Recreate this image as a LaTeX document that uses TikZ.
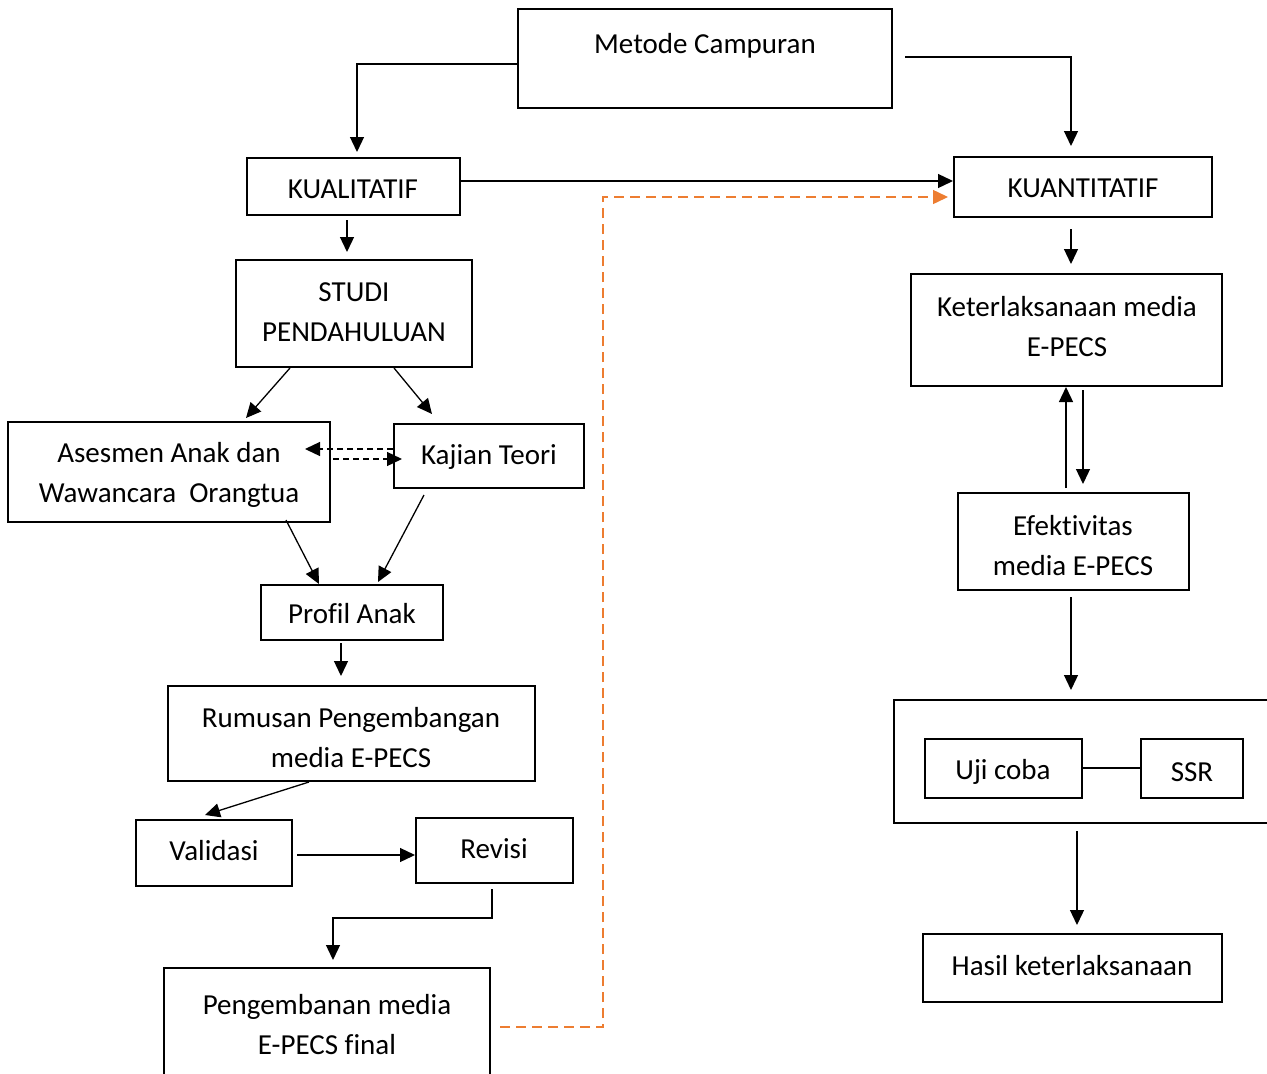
\documentclass[tikz,border=0pt]{standalone}
\usepackage{fontspec}
\setmainfont[Ligatures=NoCommon]{Carlito}
\usetikzlibrary{arrows.meta}
\begin{document}
\begin{tikzpicture}[x=1pt,y=-1pt,
  box/.style={draw, line width=2pt, inner sep=0pt},
  txt/.style={inner sep=0pt, align=center, font=\fontsize{29}{40}\selectfont},
  conn/.style={line width=1.3pt},
  arr/.style={conn, -{Triangle[length=15pt,width=14pt]}},
  dasharr/.style={conn, dash pattern=on 6pt off 4pt, -{Triangle[length=15pt,width=14pt]}},
  orangearr/.style={line width=1.5pt, draw=orangeline, dash pattern=on 10pt off 6pt, -{Triangle[length=15pt,width=14pt]}}]
\definecolor{orangeline}{HTML}{ED7D31}
\clip (0,0) rectangle (1267,1074);
\fill[white] (0,0) rectangle (1267,1074);
% boxes
\node[box, minimum width=374pt, minimum height=99pt] (mc) at (705,58.5) {};
\node[box, minimum width=213pt, minimum height=57pt] (kual) at (353.5,186.5) {};
\node[box, minimum width=258pt, minimum height=60pt] (kuan) at (1083,187) {};
\node[box, minimum width=236pt, minimum height=107pt] (studi) at (354,313.5) {};
\node[box, minimum width=322pt, minimum height=100pt] (ases) at (169,472) {};
\node[box, minimum width=190pt, minimum height=64pt] (kaj) at (489,456) {};
\node[box, minimum width=182pt, minimum height=55pt] (prof) at (352,612.5) {};
\node[box, minimum width=367pt, minimum height=95pt] (rum) at (351.5,733.5) {};
\node[box, minimum width=156pt, minimum height=66pt] (val) at (214,853) {};
\node[box, minimum width=157pt, minimum height=65pt] (rev) at (494.5,850.5) {};
\node[box, minimum width=326pt, minimum height=112pt] (peng) at (327,1024) {};
\node[box, minimum width=311pt, minimum height=112pt] (ket) at (1066.5,330) {};
\node[box, minimum width=231pt, minimum height=97pt] (efek) at (1073.5,541.5) {};
\node[box, minimum width=386pt, minimum height=123pt] (big) at (1087,761.5) {};
\node[box, minimum width=157pt, minimum height=59pt] (uji) at (1003.5,768.5) {};
\node[box, minimum width=102pt, minimum height=59pt] (ssr) at (1192,768.5) {};
\node[box, minimum width=299pt, minimum height=68pt] (hasil) at (1072.5,968) {};
% texts
\node[txt] (mct) at (705,46) {Metode Campuran};
\node[txt] (kualt) at (353,189) {KUALITATIF};
\node[txt] (kuant) at (1083,188) {KUANTITATIF};
\node[txt] (studit) at (354,312) {STUDI\\PENDAHULUAN};
\node[txt] (asest) at (169,475) {Asesmen Anak dan\\Wawancara\ \ Orangtua};
\node[txt] (kajt) at (489,457) {Kajian Teori};
\node[txt] (proft) at (352,614) {Profil Anak};
\node[txt] (rumt) at (351,738) {Rumusan Pengembangan\\media E-PECS};
\node[txt] (valt) at (214,851) {Validasi};
\node[txt] (revt) at (494,849) {Revisi};
\node[txt] (pengt) at (327,1025) {Pengembanan media\\E-PECS final};
\node[txt] (kett) at (1067,327) {Keterlaksanaan media\\E-PECS};
\node[txt] (efekt) at (1073,546) {Efektivitas\\media E-PECS};
\node[txt] (ujit) at (1003,772) {Uji coba};
\node[txt] (ssrt) at (1192,772) {SSR};
\node[txt] (hasilt) at (1072,966) {Hasil keterlaksanaan};
% connectors
\draw[arr] (mc.west |- 0,64) -- (357,64) -- (357,0 |- kual.north) [shorten >=5pt];
\draw[arr, shorten <=12pt, shorten >=10pt] (mc.east |- 0,57) -- (1071,57) -- (1071,0 |- kuan.north);
\draw[arr] (kual.east |- 0,181) -- (kuan.west |- 0,181);
\draw[arr, shorten <=4pt, shorten >=7pt] (347,0 |- kual.south) -- (347,0 |- studi.north);
\draw[arr] (290,0 |- studi.south) -- (246,418);
\draw[arr] (394,0 |- studi.south) -- (432,414);
\draw[dasharr] (kaj.west |- 0,449) -- (305,449);
\draw[dasharr] (333,459) -- (402,459);
\draw[arr] (286,520) -- (319,584);
\draw[arr] (424,495) -- (378,582);
\draw[arr, shorten <=2pt, shorten >=9pt] (341,0 |- prof.south) -- (341,0 |- rum.north);
\draw[arr] (309,0 |- rum.south) -- (205,815);
\draw[arr] (297,855) -- (rev.west |- 0,855);
\draw[arr] (492,889) -- (492,918) -- (333,918) -- (333,960);
\draw[orangearr] (500,1027) -- (603,1027) -- (603,197) -- (948,197);
\draw[arr] (1071,229) -- (1071,264);
\draw[arr] (1066,488) -- (1066,0 |- ket.south);
\draw[arr] (1083,390) -- (1083,484);
\draw[arr] (1071,597) -- (1071,690);
\draw[conn] (uji.east |- 0,768) -- (ssr.west |- 0,768);
\draw[arr] (1077,831) -- (1077,925);
\end{tikzpicture}
\end{document}
